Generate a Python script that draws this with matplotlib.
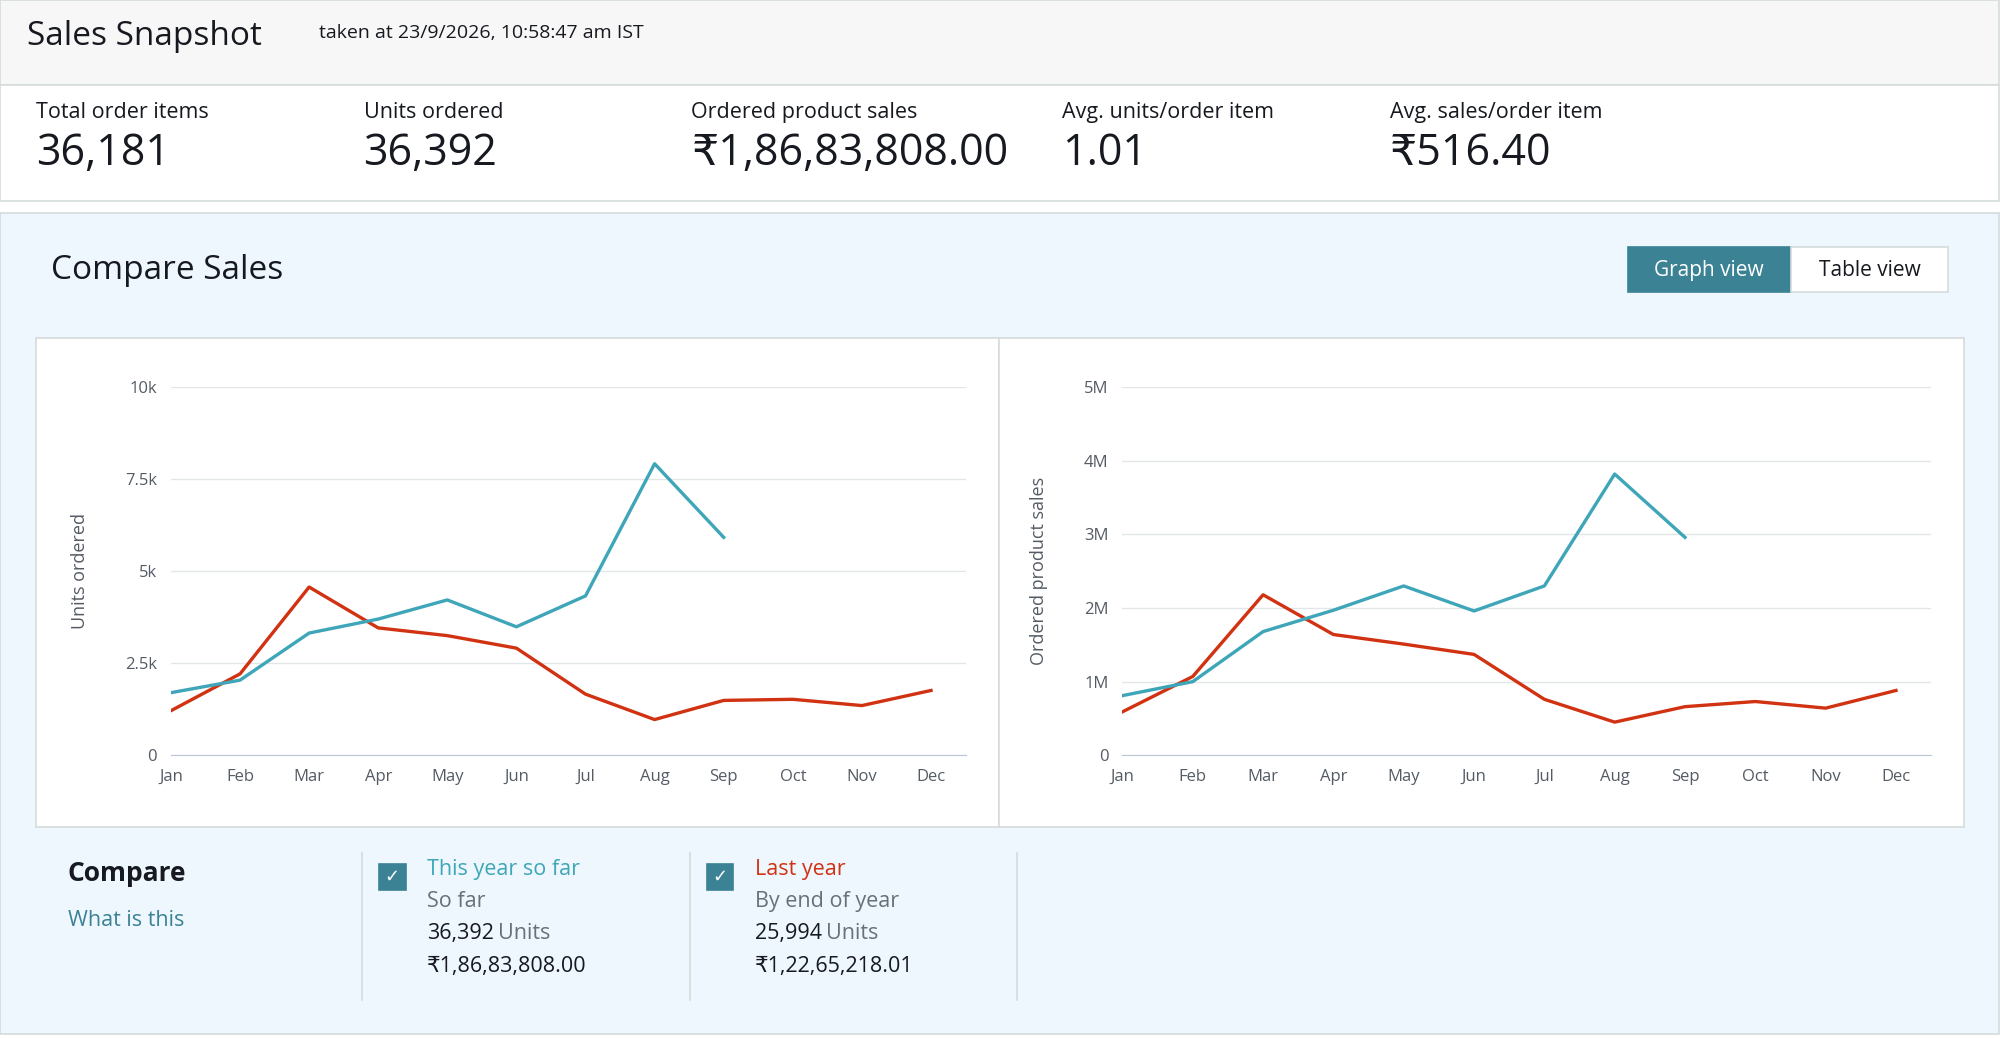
import matplotlib.pyplot as plt
from matplotlib.patches import Rectangle
from matplotlib.ticker import FuncFormatter

plt.rcParams['font.family'] = ['Open Sans', 'DejaVu Sans']

months = ['Jan', 'Feb', 'Mar', 'Apr', 'May', 'Jun', 'Jul', 'Aug', 'Sep', 'Oct', 'Nov', 'Dec']
units_this = [1700, 2040, 3320, 3700, 4220, 3490, 4330, 7920, 5920]
units_last = [1210, 2210, 4570, 3460, 3250, 2910, 1660, 970, 1490, 1520, 1350, 1760]
sales_this = [0.81, 1.00, 1.68, 1.97, 2.30, 1.96, 2.30, 3.82, 2.96]
sales_last = [0.59, 1.07, 2.18, 1.64, 1.51, 1.37, 0.76, 0.45, 0.66, 0.73, 0.64, 0.88]

stat_labels = ['Total order items', 'Units ordered', 'Ordered product sales', 'Avg. units/order item', 'Avg. sales/order item']
stat_values = ['36,181', '36,392', '₹1,86,83,808.00', '1.01', '₹516.40']
stat_x = [28, 285, 542, 833, 1090]

BLUE = '#3ea6b8'
RED = '#d13212'
DARK = '#16191f'
TEAL = '#3b8394'
W, H = 1568, 815

fig = plt.figure(figsize=(20, 10.38), dpi=100)

def fx(x): return x / W
def fy(y): return 1 - y / H

def box(x0, y0, x1, y1, fc, ec='#d5dbdb', lw=1.2):
    fig.patches.append(Rectangle((fx(x0), fy(y1)), fx(x1) - fx(x0), fy(y0) - fy(y1),
                                 transform=fig.transFigure, fc=fc, ec=ec, lw=lw, zorder=0))

def txt(x, y, s, size, color=DARK, **kw):
    return fig.text(fx(x), fy(y), s, fontsize=size, color=color, va='center', **kw)

box(0, 0, 1567, 67, '#f7f7f7')
box(0, 67, 1567, 158, 'white')
box(0, 167, 1567, 812, '#eef7fd')
box(28, 265, 783, 649, 'white')
box(783, 265, 1540, 649, 'white')

txt(21, 29, 'Sales Snapshot', 24)
txt(250, 26, 'taken at 23/9/2026, 10:58:47 am IST', 14)
for x, l, v in zip(stat_x, stat_labels, stat_values):
    txt(x, 88, l, 15.5)
    txt(x, 121, v, 31)

txt(40, 212, 'Compare Sales', 24)
box(1276, 194, 1404, 229, TEAL, ec=TEAL)
box(1404, 194, 1527, 229, 'white')
txt(1340, 212, 'Graph view', 15, color='white', ha='center')
txt(1466, 212, 'Table view', 15, ha='center')

def chart(x0, x1, this, last, ymax, ticks, fmt, ylabel):
    ax = fig.add_axes([fx(x0), fy(593), fx(x1) - fx(x0), fy(304) - fy(593)], zorder=2)
    ax.plot(range(len(last)), last, color=RED, lw=2.4)
    ax.plot(range(len(this)), this, color=BLUE, lw=2.4)
    ax.set_xlim(0, 11.5)
    ax.set_ylim(0, ymax)
    ax.set_yticks(ticks)
    ax.yaxis.set_major_formatter(FuncFormatter(fmt))
    ax.set_xticks(range(12))
    ax.set_xticklabels(months)
    ax.grid(axis='y', color='#e3e6e8', lw=1)
    for s in ['top', 'right', 'left']:
        ax.spines[s].set_visible(False)
    ax.spines['bottom'].set_color('#b8c7d9')
    ax.tick_params(length=0, labelsize=12, colors='#545b64', pad=10)
    ax.set_ylabel(ylabel, fontsize=13, color='#545b64', labelpad=26)
    ax.set_facecolor('none')
    ax.set_axisbelow(True)

chart(134, 757, units_this, units_last, 10000, [0, 2500, 5000, 7500, 10000],
      lambda v, p: '0' if v == 0 else f'{v/1000:g}k', 'Units ordered')
chart(880, 1514, sales_this, sales_last, 5, [0, 1, 2, 3, 4, 5],
      lambda v, p: '0' if v == 0 else f'{v:g}M', 'Ordered product sales')

txt(53, 686, 'Compare', 19, weight='bold')
txt(53, 723, 'What is this', 15.5, color=TEAL)
for x in [284, 541, 797]:
    fig.add_artist(plt.Line2D([fx(x), fx(x)], [fy(670), fy(785)], color='#d5dbdb', lw=1.2))

legend = [(297, 'This year so far', BLUE, 'So far', '36,392', '₹1,86,83,808.00'),
          (554, 'Last year', RED, 'By end of year', '25,994', '₹1,22,65,218.01')]
for x, name, c, sub, u, s in legend:
    box(x, 678, x + 21, 699, TEAL, ec=TEAL)
    txt(x + 10.5, 688.5, '✓', 13, color='white', ha='center', family=['DejaVu Sans'])
    txt(x + 38, 683, name, 15.5, color=c)
    txt(x + 38, 708, sub, 15.5, color='#687078')
    txt(x + 38, 733, u, 15.5)
    txt(x + 38 + len(u) * 9.3, 733, 'Units', 15.5, color='#687078')
    txt(x + 38, 759, s, 15.5)

fig.savefig('out.png', dpi=100)
